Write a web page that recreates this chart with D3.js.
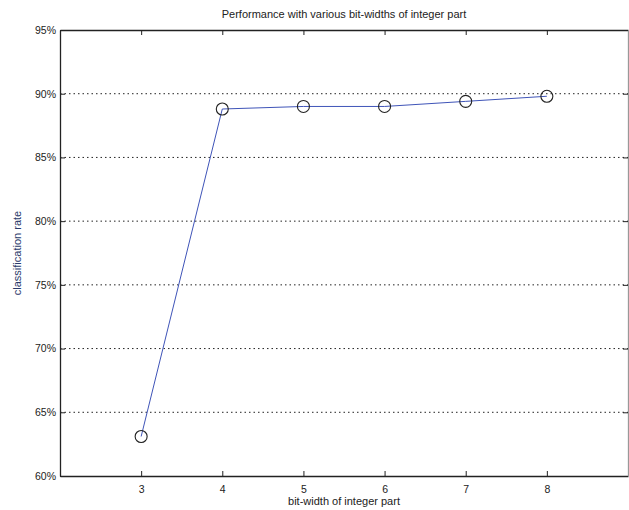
<!DOCTYPE html>
<html><head><meta charset="utf-8">
<script src="https://cdn.jsdelivr.net/npm/d3@7"></script>
<style>body{margin:0;background:#fff;} text{font-family:"Liberation Sans",Arial,sans-serif;}</style>
</head><body><svg id="c" width="629" height="510"></svg>
<script>
const bitWidths = [3, 4, 5, 6, 7, 8];
const rates = [63.1, 88.8, 89.0, 89.0, 89.4, 89.8];
const xTicks = [3, 4, 5, 6, 7, 8];
const yTicks = [60, 65, 70, 75, 80, 85, 90, 95];
const title = "Performance with various bit-widths of integer part";
const xLabel = "bit-width of integer part";
const yLabel = "classification rate";

(function () {
const svg = d3.select("#c");
const L = 60, R = 628, T = 30, B = 476;
const x = d3.scaleLinear().domain([2, 9]).range([L, R]);
const y = d3.scaleLinear().domain([60, 95]).range([B, T]);

// grid
svg.append("g").selectAll("line").data(yTicks.filter(v => v > 60 && v < 95)).join("line")
  .attr("x1", L).attr("x2", R).attr("y1", d => y(d)).attr("y2", d => y(d))
  .attr("stroke", "#222").attr("stroke-width", 1).attr("stroke-dasharray", "1.5,3");

// axes
const gBottom = svg.append("g").attr("transform", `translate(0,${B})`)
  .call(d3.axisBottom(x).tickValues(xTicks).tickSizeInner(-5).tickSizeOuter(0).tickPadding(10).tickFormat(d3.format("d")));
const gTop = svg.append("g").attr("transform", `translate(0,${T})`)
  .call(d3.axisTop(x).tickValues(xTicks).tickSizeInner(-5).tickSizeOuter(0).tickFormat(""));
const gLeft = svg.append("g").attr("transform", `translate(${L},0)`)
  .call(d3.axisLeft(y).tickValues(yTicks).tickSizeInner(-5).tickSizeOuter(0).tickPadding(4).tickFormat(d => d + "%"));
const gRight = svg.append("g").attr("transform", `translate(${R},0)`)
  .call(d3.axisRight(y).tickValues(yTicks).tickSizeInner(-5).tickSizeOuter(0).tickFormat(""));
[gBottom, gTop, gLeft, gRight].forEach(g => {
  g.select(".domain").attr("stroke", "#222").attr("stroke-width", 1.3);
  g.selectAll(".tick line").attr("stroke", "#222");
  g.selectAll(".tick text").attr("fill", "#222").style("font-size", "10.5px");
});
gRight.select(".domain").attr("stroke", "#999");

// line
const pts = bitWidths.map((b, i) => [b, rates[i]]);
svg.append("path").datum(pts)
  .attr("fill", "none").attr("stroke", "#3f54b8").attr("stroke-width", 1)
  .attr("d", d3.line().x(d => x(d[0])).y(d => y(d[1])));
svg.append("g").selectAll("circle").data(pts).join("circle")
  .attr("cx", d => x(d[0])).attr("cy", d => y(d[1])).attr("r", 6)
  .attr("fill", "none").attr("stroke", "#222").attr("stroke-width", 1.1);

// labels
svg.append("text").attr("x", (L + R) / 2).attr("y", 18).attr("text-anchor", "middle")
  .style("font-size", "11px").attr("fill", "#222").text(title);
svg.append("text").attr("x", (L + R) / 2).attr("y", 505).attr("text-anchor", "middle")
  .style("font-size", "11px").attr("fill", "#222").text(xLabel);
svg.append("text").attr("transform", `translate(21,${(T + B) / 2}) rotate(-90)`).attr("text-anchor", "middle")
  .style("font-size", "11px").attr("fill", "#2a3a6a").text(yLabel);
})();
</script></body></html>
